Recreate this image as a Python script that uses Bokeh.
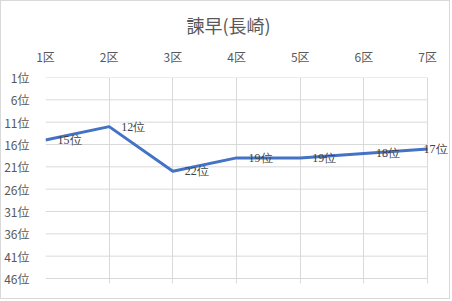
from bokeh.plotting import figure
from bokeh.models import ColumnDataSource, FixedTicker, Range1d, LinearAxis, Title, LabelSet
from bokeh.embed import file_html
from bokeh.resources import INLINE

districts = ["1区", "2区", "3区", "4区", "5区", "6区", "7区"]
ranks = [15, 12, 22, 19, 19, 18, 17]
rank_ticks = [1, 6, 11, 16, 21, 26, 31, 36, 41, 46]
title_text = "諫早(長崎)"

FONT = "Noto Sans CJK JP"
GRID = "#d9d9d9"
TXT = "#595959"

xs = list(range(1, len(districts) + 1))
labels = [f"{r}位" for r in ranks]
xoff = [12] * (len(ranks) - 1) + [-4]

src = ColumnDataSource(dict(x=xs, y=ranks, lab=labels, xo=xoff))
grid_src = ColumnDataSource(dict(x0=[xs[0]] * len(rank_ticks), x1=[xs[-1]] * len(rank_ticks),
                                 y=rank_ticks))

# frame extends right (room for last label) and ~5px below the last rank
p = figure(width=450, height=299, output_backend="svg", toolbar_location=None,
           x_range=Range1d(1, 7.375), y_range=Range1d(47.12, 1),
           x_axis_location=None, y_axis_location=None,
           min_border_left=42, min_border_right=0, min_border_top=76, min_border_bottom=17)
p.outline_line_color = None
p.background_fill_color = "white"
p.border_fill_color = "white"

ya = LinearAxis(ticker=FixedTicker(ticks=rank_ticks))
ya.major_label_overrides = {t: f"{t}位" for t in rank_ticks}
ya.axis_line_color = None
ya.major_tick_line_color = None
ya.minor_tick_line_color = None
ya.major_label_standoff = 10
ya.major_label_text_font = FONT
ya.major_label_text_font_size = "12px"
ya.major_label_text_color = TXT
p.add_layout(ya, "left")

xa = LinearAxis(ticker=FixedTicker(ticks=xs))
xa.major_label_overrides = {i + 1: d for i, d in enumerate(districts)}
xa.axis_line_color = None
xa.major_tick_line_color = None
xa.minor_tick_line_color = None
xa.major_label_standoff = 7
xa.major_label_text_font = FONT
xa.major_label_text_font_size = "12px"
xa.major_label_text_color = TXT
p.add_layout(xa, "above")

p.xgrid.grid_line_color = GRID
p.xgrid.ticker = FixedTicker(ticks=xs)
p.ygrid.grid_line_color = None
p.segment(x0="x0", x1="x1", y0="y", y1="y", source=grid_src, line_color=GRID, line_width=1)

p.line("x", "y", source=src, line_color="#4472C4", line_width=3)
ls = LabelSet(x="x", y="y", text="lab", source=src, x_offset="xo",
              text_baseline="middle", text_align="left", text_font_size="12px",
              text_color="#404040", text_font=FONT)
p.add_layout(ls)

t = Title(text=title_text, align="left", text_font=FONT, text_font_size="18px",
          text_font_style="normal", text_color=TXT, standoff=14, offset=141)
p.add_layout(t, "above")

p.styles = {"border": "1px solid #d9d9d9"}

open("out.html", "w").write(file_html(p, INLINE))
